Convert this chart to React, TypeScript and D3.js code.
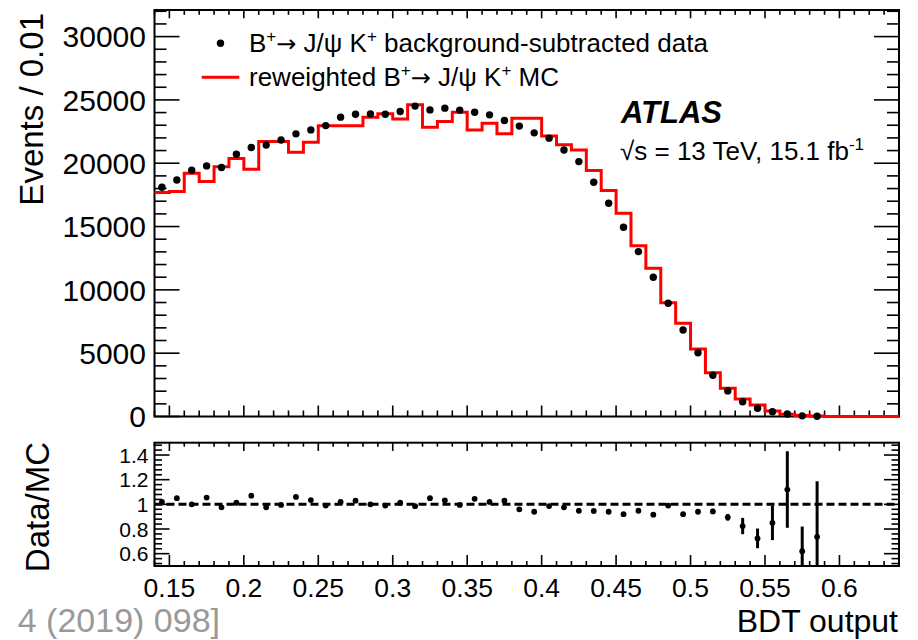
import React from "react";
import * as d3 from "d3";

// ---------- data ----------
const binLowEdges = [
  0.14, 0.15, 0.16, 0.17, 0.18, 0.19, 0.2, 0.21, 0.22, 0.23,
  0.24, 0.25, 0.26, 0.27, 0.28, 0.29, 0.3, 0.31, 0.32, 0.33,
  0.34, 0.35, 0.36, 0.37, 0.38, 0.39, 0.4, 0.41, 0.42, 0.43,
  0.44, 0.45, 0.46, 0.47, 0.48, 0.49, 0.5, 0.51, 0.52, 0.53,
  0.54, 0.55, 0.56, 0.57, 0.58, 0.59, 0.6, 0.61, 0.62, 0.63,
];
const BIN_WIDTH = 0.01;

// background-subtracted data (black points), first 45 bins
const dataEvents = [
  18100, 18680, 19450, 19790, 19660, 20710, 21240, 21430, 21840, 22320,
  22630, 22970, 23640, 23870, 23900, 23870, 24080, 24510, 24210, 24350,
  24190, 24030, 23820, 23370, 22930, 22400, 21980, 21050, 20130, 18500,
  16840, 14950, 13020, 11000, 8940, 6830, 5040, 3260, 2020, 1170,
  650, 370, 195, 50, 22,
];

// reweighted MC (red histogram), all 50 bins
const mcEvents = [
  17680, 17760, 19210, 18550, 19730, 20370, 19530, 21710, 21710, 20870,
  21660, 22950, 22950, 22950, 23640, 23900, 23500, 24610, 22850, 23290,
  24030, 22630, 23160, 22320, 23560, 23560, 22150, 21450, 21050, 19420,
  17840, 16050, 13490, 11710, 8990, 7360, 5330, 3460, 2230, 1380,
  910, 435, 174, 80, 30, 0, 0, 0, 0, 0,
];

// Data/MC ratio and its uncertainty
const ratioValues = [
  1.02, 1.05, 1.0, 1.055, 0.975, 1.013, 1.07, 0.975, 0.995, 1.06,
  1.035, 0.99, 1.02, 1.03, 1.0, 0.99, 1.013, 0.985, 1.05, 1.033,
  0.995, 1.045, 1.02, 1.03, 0.96, 0.94, 0.986, 0.975, 0.948, 0.946,
  0.94, 0.92, 0.948, 0.916, 0.99, 0.92, 0.94, 0.943, 0.895, 0.824,
  0.724, 0.85, 1.12, 0.62, 0.737,
];
const ratioErrors = [
  0.006, 0.006, 0.006, 0.006, 0.006, 0.006, 0.006, 0.006, 0.006, 0.006,
  0.006, 0.006, 0.006, 0.006, 0.006, 0.006, 0.006, 0.006, 0.006, 0.006,
  0.006, 0.006, 0.006, 0.006, 0.006, 0.006, 0.006, 0.006, 0.006, 0.007,
  0.007, 0.008, 0.008, 0.009, 0.01, 0.012, 0.015, 0.022, 0.027, 0.066,
  0.08, 0.14, 0.31, 0.2, 0.45,
];

const xMajorTicks = [0.15, 0.2, 0.25, 0.3, 0.35, 0.4, 0.45, 0.5, 0.55, 0.6];
const xTickLabels = ["0.15", "0.2", "0.25", "0.3", "0.35", "0.4", "0.45", "0.5", "0.55", "0.6"];
const yMainTicks = [0, 5000, 10000, 15000, 20000, 25000, 30000];
const yMainTickLabels = ["0", "5000", "10000", "15000", "20000", "25000", "30000"];
const yRatioTicks = [0.6, 0.8, 1, 1.2, 1.4];
const yRatioTickLabels = ["0.6", "0.8", "1", "1.2", "1.4"];

// ---------- layout ----------
const W = 918;
const H = 640;
const FONT = "'Liberation Sans', Arial, Helvetica, sans-serif";
const ARROW_FONT = "'DejaVu Sans', sans-serif";
const main = { l: 154.5, r: 899, t: 10, b: 416.5 };
const rat = { l: 154.5, r: 899, t: 442.7, b: 566 };

const x = d3.scaleLinear().domain([0.14, 0.64]).range([main.l, main.r]);
const yMain = d3.scaleLinear().domain([0, 32100]).range([main.b, main.t]);
const yRatio = d3.scaleLinear().domain([0.5, 1.5]).range([rat.b, rat.t]);

const xMinor = d3.range(14, 65).filter((i) => i % 5 !== 0).map((i) => i / 100);
const yMainMinor = d3.range(0, 32001, 1000).filter((v) => v % 5000 !== 0);
const yRatioMinor = d3.range(13, 38).filter((i) => i % 5 !== 0).map((i) => i * 0.04);

function Ticks({ frame, yScale, yMajor, yMinor, yMajLen, yMinLen, xMajLen, xMinLen }: any) {
  const lines: any[] = [];
  xMajorTicks.forEach((v, i) => {
    const px = x(v);
    lines.push(<line key={"xb" + i} x1={px} x2={px} y1={frame.b} y2={frame.b - xMajLen} />);
    lines.push(<line key={"xt" + i} x1={px} x2={px} y1={frame.t} y2={frame.t + xMajLen * 0.75} />);
  });
  xMinor.forEach((v, i) => {
    const px = x(v);
    lines.push(<line key={"xbm" + i} x1={px} x2={px} y1={frame.b} y2={frame.b - xMinLen} />);
    lines.push(<line key={"xtm" + i} x1={px} x2={px} y1={frame.t} y2={frame.t + xMinLen * 0.8} />);
  });
  yMajor.forEach((v: number, i: number) => {
    const py = yScale(v);
    lines.push(<line key={"yl" + i} x1={frame.l} x2={frame.l + yMajLen} y1={py} y2={py} />);
    lines.push(<line key={"yr" + i} x1={frame.r} x2={frame.r - yMajLen} y1={py} y2={py} />);
  });
  yMinor.forEach((v: number, i: number) => {
    const py = yScale(v);
    lines.push(<line key={"ylm" + i} x1={frame.l} x2={frame.l + yMinLen} y1={py} y2={py} />);
    lines.push(<line key={"yrm" + i} x1={frame.r} x2={frame.r - yMinLen} y1={py} y2={py} />);
  });
  return (
    <g stroke="#000" strokeWidth={1.6}>
      {lines}
    </g>
  );
}

function DecayText({ prefix, suffix }: { prefix: string; suffix: string }) {
  return (
    <>
      {prefix}B
      <tspan dy={-10} fontSize={17}>+</tspan>
      <tspan dy={10} fontFamily={ARROW_FONT} fontSize={24}>→</tspan>
      <tspan> J/ψ K</tspan>
      <tspan dy={-10} fontSize={17}>+</tspan>
      <tspan dy={10}>{suffix}</tspan>
    </>
  );
}

export default function App() {
  const stepPoints: [number, number][] = binLowEdges.map((e, i) => [e, mcEvents[i]]);
  stepPoints.push([binLowEdges[binLowEdges.length - 1] + BIN_WIDTH, mcEvents[mcEvents.length - 1]]);
  const stepLine = d3
    .line<[number, number]>()
    .x((d) => x(d[0]))
    .y((d) => yMain(d[1]))
    .curve(d3.curveStepAfter);

  const centers = binLowEdges.map((e) => e + BIN_WIDTH / 2);

  return (
    <svg
      width={W}
      height={H}
      viewBox={`0 0 ${W} ${H}`}
      style={{ position: "absolute", left: 0, top: 0, background: "#fff" }}
      fontFamily={FONT}
    >
      <defs>
        <clipPath id="ratioClip">
          <rect x={rat.l} y={rat.t} width={rat.r - rat.l} height={rat.b - rat.t} />
        </clipPath>
      </defs>
      <rect x={0} y={0} width={W} height={H} fill="#fff" />

      {/* ---------- main panel ---------- */}
      <Ticks
        frame={main}
        yScale={yMain}
        yMajor={yMainTicks}
        yMinor={yMainMinor}
        yMajLen={25}
        yMinLen={12}
        xMajLen={11}
        xMinLen={6}
      />
      <rect
        x={main.l}
        y={main.t}
        width={main.r - main.l}
        height={main.b - main.t}
        fill="none"
        stroke="#000"
        strokeWidth={2}
      />
      {yMainTicks.map((v, i) => (
        <text key={i} x={146} y={yMain(v)} dy="0.36em" textAnchor="end" fontSize={30}>
          {yMainTickLabels[i]}
        </text>
      ))}
      <text transform={`translate(43,13) rotate(-90)`} textAnchor="end" fontSize={33}>
        Events / 0.01
      </text>

      <path d={stepLine(stepPoints) || ""} fill="none" stroke="#ff0000" strokeWidth={3} />
      {dataEvents.map((v, i) => (
        <circle key={i} cx={x(centers[i])} cy={yMain(v)} r={3.7} fill="#000" />
      ))}

      {/* legend */}
      <circle cx={220.5} cy={43.3} r={3.7} fill="#000" />
      <text x={249} y={52} fontSize={26}>
        <DecayText prefix="" suffix=" background-subtracted data" />
      </text>
      <line x1={201.7} x2={239.3} y1={77.3} y2={77.3} stroke="#ff0000" strokeWidth={3} />
      <text x={249} y={86} fontSize={26}>
        <DecayText prefix="reweighted " suffix=" MC" />
      </text>

      <text x={621} y={122.5} fontSize={31} fontWeight="bold" fontStyle="italic">
        ATLAS
      </text>
      <text x={620} y={160} fontSize={26}>
        √s = 13 TeV, 15.1 fb
        <tspan dy={-10} fontSize={17}>-1</tspan>
      </text>

      {/* ---------- ratio panel ---------- */}
      <Ticks
        frame={rat}
        yScale={yRatio}
        yMajor={yRatioTicks}
        yMinor={yRatioMinor}
        yMajLen={15}
        yMinLen={7.5}
        xMajLen={11}
        xMinLen={5}
      />
      <rect
        x={rat.l}
        y={rat.t}
        width={rat.r - rat.l}
        height={rat.b - rat.t}
        fill="none"
        stroke="#000"
        strokeWidth={2}
      />
      <line
        x1={rat.l}
        x2={rat.r}
        y1={yRatio(1)}
        y2={yRatio(1)}
        stroke="#000"
        strokeWidth={3}
        strokeDasharray="8 4"
      />
      <g clipPath="url(#ratioClip)">
        {ratioValues.map((v, i) => (
          <line
            key={"e" + i}
            x1={x(centers[i])}
            x2={x(centers[i])}
            y1={yRatio(v - ratioErrors[i])}
            y2={yRatio(v + ratioErrors[i])}
            stroke="#000"
            strokeWidth={3}
          />
        ))}
        {ratioValues.map((v, i) => (
          <circle key={"p" + i} cx={x(centers[i])} cy={yRatio(v)} r={2.9} fill="#000" />
        ))}
      </g>
      {yRatioTicks.map((v, i) => (
        <text key={i} x={148.5} y={yRatio(v)} dy="0.36em" textAnchor="end" fontSize={21}>
          {yRatioTickLabels[i]}
        </text>
      ))}
      {xMajorTicks.map((v, i) => (
        <text key={i} x={x(v)} y={597} textAnchor="middle" fontSize={26.5}>
          {xTickLabels[i]}
        </text>
      ))}
      <text transform={`translate(49,442) rotate(-90)`} textAnchor="end" fontSize={33}>
        Data/MC
      </text>
      <text x={898} y={632} textAnchor="end" fontSize={32}>
        BDT output
      </text>

      <text x={220} y={632} textAnchor="end" fontSize={34} fill="#999">
        4 (2019) 098]
      </text>
    </svg>
  );
}
